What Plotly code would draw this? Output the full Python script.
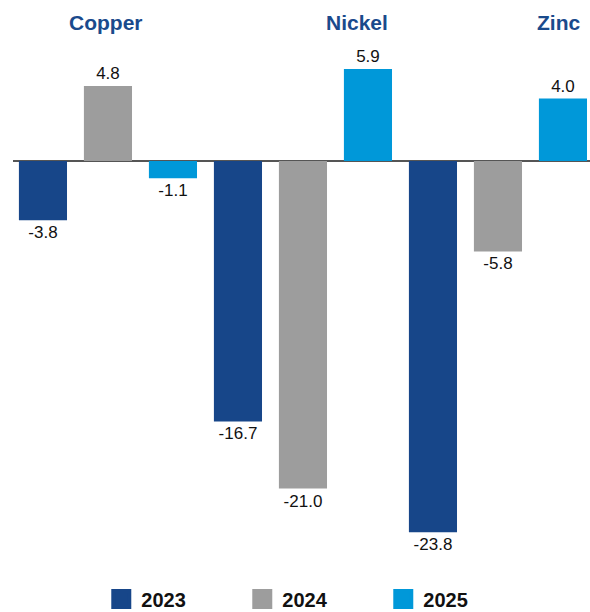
import plotly.graph_objects as go

metals = ["Copper", "Nickel", "Zinc"]
years = ["2023", "2024", "2025"]
values_2023 = [-3.8, -16.7, -23.8]
values_2024 = [4.8, -21.0, -5.8]
values_2025 = [-1.1, 5.9, 4.0]
series = [values_2023, values_2024, values_2025]
colors = ["#174689", "#9d9d9d", "#0098d9"]

FONT = "Liberation Sans, Arial, sans-serif"

fig = go.Figure()
for yr, vals, col in zip(years, series, colors):
    fig.add_trace(go.Bar(
        x=metals, y=vals, name=yr, marker=dict(color=col, line=dict(width=0)),
        text=[f"{v:.1f}" for v in vals], textposition="outside",
        textfont=dict(family=FONT, size=17, color="#111111"),
        cliponaxis=False, showlegend=False,
    ))
    fig.add_trace(go.Scatter(
        x=[None], y=[None], mode="markers", name=f"<b>{yr}</b>",
        marker=dict(symbol="square", size=16, color=col, line=dict(color=col, width=4)),
        showlegend=True,
    ))

label_x = [0.161, 0.596, 0.945]
for m, lx in zip(metals, label_x):
    fig.add_annotation(text=f"<b>{m}</b>", xref="paper", yref="paper", x=lx, y=0.96,
                       showarrow=False, xanchor="center", yanchor="middle",
                       font=dict(family=FONT, size=21, color="#1a4a8c"))

fig.update_layout(
    width=590, height=612,
    margin=dict(l=13, r=0, t=0, b=52),
    paper_bgcolor="white", plot_bgcolor="white",
    barmode="group", bargap=0.0, bargroupgap=0.26,
    xaxis=dict(range=[-0.487, 2.472], showticklabels=False, showgrid=False, zeroline=False,
               showline=False, ticks=""),
    yaxis=dict(range=[-25.58, 10.32], showticklabels=False, showgrid=False, zeroline=True,
               zerolinecolor="#555555", zerolinewidth=2, showline=False, ticks=""),
    legend=dict(orientation="h", x=0.153, xanchor="left", yref="container", y=0.053, yanchor="top",
                font=dict(family=FONT, size=20, color="#111111"), entrywidth=96,
                entrywidthmode="pixels", itemclick=False, itemdoubleclick=False),
    font=dict(family=FONT),
)
fig.write_html("out.html", config={"displayModeBar": False},
               post_script="document.body.style.margin='0';")
